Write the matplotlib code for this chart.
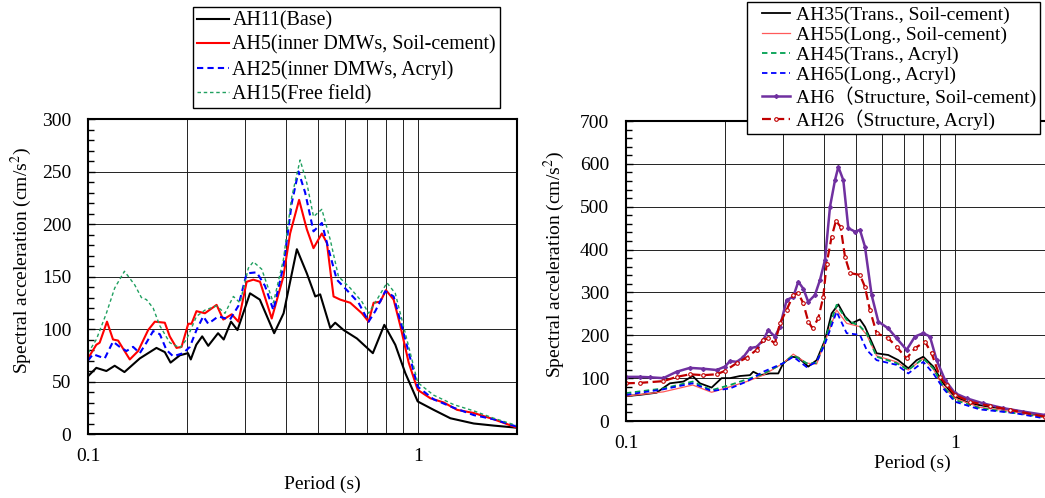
import matplotlib
matplotlib.use('Agg')
import matplotlib.pyplot as plt
from matplotlib.ticker import MultipleLocator, LogLocator, NullFormatter
from matplotlib.legend_handler import HandlerLine2D
from matplotlib.lines import Line2D

plt.rcParams['font.family'] = ['Liberation Serif', 'Noto Sans CJK JP', 'DejaVu Sans']
plt.rcParams['mathtext.fontset'] = 'stix'
plt.rcParams['font.size'] = 14

# ---- left panel data (period s, Sa cm/s2)
t_ah11 = [0.100, 0.106, 0.1137, 0.1205, 0.129, 0.1436, 0.1613, 0.171, 0.178, 0.190, 0.201,
          0.205, 0.213, 0.222, 0.2316, 0.248, 0.258, 0.2715, 0.284, 0.310, 0.332, 0.367,
          0.392, 0.430, 0.461, 0.489, 0.506, 0.543, 0.562, 0.596, 0.654, 0.731, 0.792,
          0.855, 0.917, 1.0, 1.118, 1.256, 1.479, 1.702, 2.0]
sa_ah11 = [55, 63, 60, 65, 59, 72, 82, 78, 68, 75, 77, 71, 85, 93, 84, 96, 90, 107, 99, 134,
           128, 96, 115, 176, 153, 131, 133, 101, 106, 99, 91, 77, 104, 85, 58, 31, 23, 15,
           10, 8, 6]

t_ah5 = [0.100, 0.106, 0.1085, 0.1142, 0.1191, 0.1234, 0.1339, 0.1419, 0.1522, 0.1595,
         0.171, 0.177, 0.1856, 0.1922, 0.2014, 0.2061, 0.2133, 0.2263, 0.2455, 0.2572,
         0.2728, 0.2858, 0.3029, 0.3173, 0.3325, 0.3608, 0.3914, 0.4102, 0.4368, 0.461,
         0.483, 0.512, 0.5303, 0.5556, 0.5821, 0.6242, 0.6773, 0.7098, 0.735, 0.770, 0.8012,
         0.8453, 0.8858, 0.9389, 1.0, 1.093, 1.200, 1.317, 1.480, 1.702, 2.0]
sa_ah5 = [72, 85, 87, 107, 90, 89, 71, 79, 99, 107, 106, 93, 82, 83, 105, 105, 117, 115, 123,
          109, 114, 107, 145, 147, 145, 110, 150, 191, 223, 195, 177, 191, 182, 131, 128, 125,
          115, 107, 125, 126, 137, 128, 103, 68, 42, 34, 30, 23, 20, 14, 6]

t_ah25 = [0.100, 0.1036, 0.1124, 0.1191, 0.1248, 0.1308, 0.137, 0.1436, 0.1504, 0.1576,
          0.1652, 0.173, 0.1813, 0.1944, 0.2037, 0.2133, 0.2236, 0.2316, 0.2483, 0.2696,
          0.2858, 0.3029, 0.3248, 0.3443, 0.365, 0.3914, 0.415, 0.4348, 0.4556, 0.483, 0.512,
          0.5366, 0.5684, 0.6099, 0.6617, 0.7098, 0.7435, 0.7975, 0.8453, 0.9066, 1.0, 1.118,
          1.286, 1.480, 1.702, 2.0]
sa_ah25 = [70, 76, 72, 88, 83, 79, 83, 77, 87, 98, 95, 80, 74, 77, 83, 99, 112, 105, 112, 109,
           122, 153, 154, 141, 118, 160, 220, 250, 230, 193, 201, 176, 147, 137, 125, 107, 117,
           136, 131, 96, 45, 33, 25, 18, 14, 7]

t_ah15 = [0.100, 0.106, 0.1137, 0.1205, 0.129, 0.1386, 0.1452, 0.1504, 0.1576, 0.1652,
          0.177, 0.190, 0.199, 0.2133, 0.2263, 0.2455, 0.2603, 0.276, 0.2891, 0.3064, 0.3173,
          0.3364, 0.365, 0.3914, 0.415, 0.4399, 0.461, 0.483, 0.512, 0.543, 0.5751, 0.6242,
          0.6773, 0.7098, 0.7522, 0.8068, 0.855, 0.917, 1.0, 1.118, 1.286, 1.480, 1.702, 2.0]
sa_ah15 = [77, 90, 115, 139, 155, 142, 130, 128, 120, 103, 87, 82, 90, 112, 118, 122, 115,
           131, 125, 158, 164, 157, 125, 166, 226, 261, 239, 207, 214, 185, 150, 139, 126, 115,
           128, 144, 134, 96, 49, 37, 28, 22, 15, 8]

# ---- right panel data
t_ah6 = [0.100, 0.1103, 0.1183, 0.1299, 0.1426, 0.1565, 0.1718, 0.1886, 0.200, 0.2071,
         0.217, 0.2274, 0.2382, 0.2496, 0.2615, 0.2707, 0.2837, 0.2938, 0.3078, 0.3225,
         0.334, 0.3459, 0.3582, 0.3753, 0.3888, 0.4027, 0.4171, 0.4319, 0.4421, 0.4578,
         0.4741, 0.4966, 0.5143, 0.5326, 0.5581, 0.5848, 0.6272, 0.6648, 0.7131, 0.7558,
         0.8012, 0.8395, 0.8797, 0.9324, 1.0, 1.085, 1.219, 1.402, 1.613, 1.877, 2.0]
sa_ah6 = [103, 103, 102, 100, 115, 124, 122, 119, 127, 140, 138, 149, 170, 173, 189, 212, 197,
          220, 282, 290, 325, 309, 278, 294, 329, 376, 500, 562, 593, 562, 450, 442, 446, 407,
          294, 232, 216, 193, 166, 197, 205, 197, 142, 96, 65, 53, 41, 30, 22, 14, 12]

t_ah26 = [0.100, 0.1103, 0.1299, 0.1426, 0.1565, 0.1718, 0.1886, 0.200, 0.217, 0.2327,
          0.2496, 0.2615, 0.2707, 0.2837, 0.2938, 0.3078, 0.3225, 0.334, 0.3459, 0.3582,
          0.3693, 0.3843, 0.398, 0.4073, 0.4219, 0.4348, 0.4493, 0.4632, 0.4797, 0.5143,
          0.5326, 0.5515, 0.578, 0.6272, 0.6648, 0.7131, 0.7558, 0.8105, 0.8493, 0.9003,
          0.9434, 1.0, 1.111, 1.277, 1.470, 1.877, 2.0]
sa_ah26 = [88, 89, 93, 103, 109, 107, 109, 117, 135, 148, 166, 189, 193, 181, 228, 259, 294,
           298, 275, 232, 216, 240, 290, 367, 430, 467, 453, 383, 345, 341, 313, 259, 205, 193,
           173, 146, 170, 185, 158, 103, 84, 61, 45, 35, 26, 10, 9]

t_ah35 = [0.100, 0.1103, 0.1239, 0.136, 0.1494, 0.1595, 0.1678, 0.1821, 0.1953, 0.2071,
          0.2221, 0.2382, 0.2438, 0.2555, 0.274, 0.2904, 0.3008, 0.3188, 0.334, 0.3582,
          0.3799, 0.4027, 0.4219, 0.4421, 0.4632, 0.4852, 0.5143, 0.5326, 0.578, 0.6272,
          0.6726, 0.7215, 0.7647, 0.8012, 0.8594, 0.9215, 1.0, 1.111, 1.277, 1.504, 1.877, 2.0]
sa_ah35 = [58, 61, 66, 88, 92, 105, 88, 78, 100, 100, 105, 107, 115, 107, 111, 111, 135, 150,
           148, 127, 142, 189, 251, 272, 244, 228, 237, 220, 158, 154, 142, 123, 142, 150, 127,
           88, 57, 41, 33, 26, 10, 9]

t_grp = [0.100, 0.1299, 0.1595, 0.1821, 0.2071, 0.2327, 0.2615, 0.3008, 0.3225, 0.354,
         0.3799, 0.4027, 0.4368, 0.4686, 0.5143, 0.5391, 0.578, 0.6648, 0.7215, 0.8012,
         0.8594, 0.9215, 1.0, 1.191, 1.504, 1.877, 2.0]
sa_ah45 = [65, 76, 92, 72, 84, 97, 110, 135, 154, 135, 135, 189, 271, 236, 221, 205, 150, 135,
           119, 146, 123, 80, 49, 30, 19, 9, 8]
sa_ah55 = [58, 68, 84, 67, 80, 92, 107, 135, 156, 135, 133, 185, 259, 228, 220, 201, 152, 138,
           119, 146, 121, 80, 53, 32, 22, 9, 8]
sa_ah65 = [61, 74, 88, 70, 76, 92, 115, 135, 150, 126, 138, 180, 255, 205, 201, 166, 142, 131,
           111, 138, 111, 76, 45, 27, 19, 6, 5]

fig = plt.figure(figsize=(10.45, 4.98), dpi=100)
ax1 = fig.add_axes([0.0842, 0.1285, 0.4105, 0.6325])
ax2 = fig.add_axes([0.599, 0.1546, 0.4096, 0.6024])


def style(ax, ymax, ystep, yminor, xlab_x, xlab_pad, ylab_y, ylab_pad):
    ax.set_xscale('log')
    ax.set_xlim(0.1, 2.0)
    ax.set_ylim(0, ymax)
    ax.yaxis.set_major_locator(MultipleLocator(ystep))
    ax.yaxis.set_minor_locator(MultipleLocator(yminor))
    ax.xaxis.set_minor_locator(LogLocator(base=10, subs=range(2, 10)))
    ax.xaxis.set_minor_formatter(NullFormatter())
    ax.set_xticks([0.1, 1])
    ax.set_xticklabels(['0.1', '1'])
    ax.tick_params(axis='x', which='both', length=0, pad=10, labelsize=14)
    ax.tick_params(axis='y', which='major', direction='in', length=5, width=1, pad=12, labelsize=14)
    ax.tick_params(axis='y', which='minor', direction='in', length=4, width=1)
    ax.grid(True, axis='x', which='both', color='#222222', lw=0.7)
    ax.grid(True, axis='y', which='major', color='#222222', lw=0.7)
    for s in ax.spines.values():
        s.set_linewidth(1.5)
    ax.set_xlabel('Period (s)', fontsize=14, labelpad=xlab_pad, x=xlab_x)
    ax.set_ylabel('Spectral acceleration (cm/s$^2$)', fontsize=14, y=ylab_y, labelpad=ylab_pad)


style(ax1, 300, 50, 10, 0.547, 8, 0.552, 6)
style(ax2, 700, 100, 20, 0.67, 2, 0.523, 9)

ax1.plot(t_ah11, sa_ah11, color='black', lw=1.5, label='AH11(Base)')
ax1.plot(t_ah5, sa_ah5, color='#FF0000', lw=1.5, label='AH5(inner DMWs, Soil-cement)')
ax1.plot(t_ah25, sa_ah25, color='#0000FF', lw=1.5, dashes=(3, 2), label='AH25(inner DMWs, Acryl)')
ax1.plot(t_ah15, sa_ah15, color='#20A060', lw=1.0, dashes=(2.5, 2), label='AH15(Free field)')

leg1 = ax1.legend(loc='upper left', bbox_to_anchor=(0.1847, 0.986), bbox_transform=fig.transFigure,
                  borderaxespad=0, fancybox=False, edgecolor='black', framealpha=1,
                  fontsize=14.4, handlelength=1.6, handletextpad=0.15, labelspacing=0.25,
                  borderpad=0.22)
leg1.get_frame().set_linewidth(1.0)

ax2.plot(t_ah35, sa_ah35, color='black', lw=1.3, label='AH35(Trans., Soil-cement)')
ax2.plot(t_grp, sa_ah55, color='#FF5A5A', lw=0.9, label='AH55(Long., Soil-cement)')
ax2.plot(t_grp, sa_ah45, color='#00A050', lw=1.3, dashes=(3, 2), label='AH45(Trans., Acryl)')
ax2.plot(t_grp, sa_ah65, color='#0000FF', lw=1.3, dashes=(3, 2), label='AH65(Long., Acryl)')
ax2.plot(t_ah6, sa_ah6, color='#7030A0', lw=1.8, marker='D', ms=2,
         label='AH6（Structure, Soil-cement)')
ax2.plot(t_ah26, sa_ah26, color='#C00000', lw=1.6, dashes=(4, 2), marker='o', ms=2.6,
         mfc='white', mew=0.8, label='AH26（Structure, Acryl)')

leg2 = ax2.legend(loc='upper left', bbox_to_anchor=(0.7148, 0.996), bbox_transform=fig.transFigure,
                  borderaxespad=0, fancybox=False, edgecolor='black', framealpha=1,
                  fontsize=14, handlelength=2.0, handletextpad=0.3, labelspacing=0.12,
                  borderpad=0.22, numpoints=1,
                  handler_map={Line2D: HandlerLine2D(xpad=0.55)})
leg2.get_frame().set_linewidth(1.0)
leg2.set_zorder(10)

fig.savefig('out.png', dpi=100)
